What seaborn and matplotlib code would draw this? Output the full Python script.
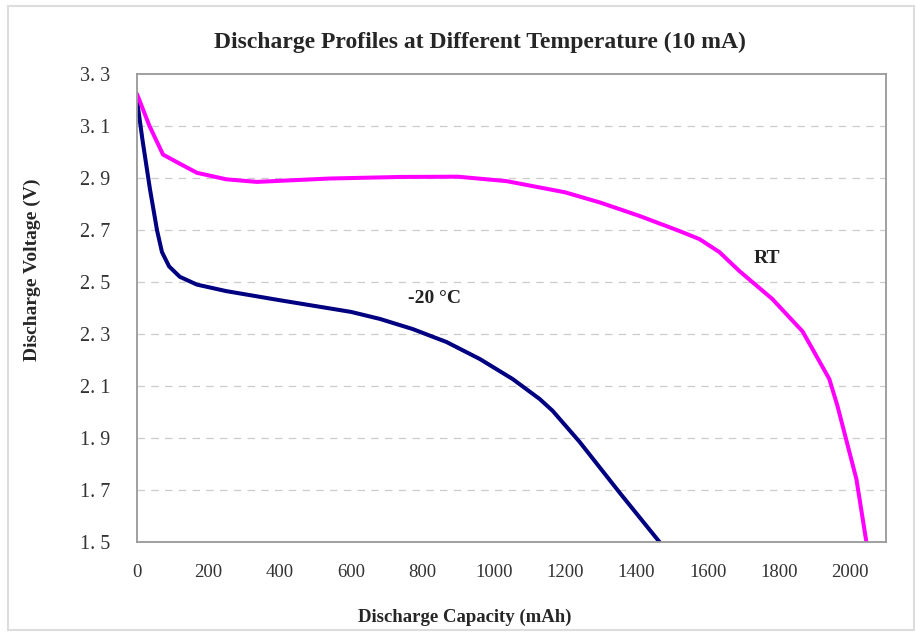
import matplotlib
matplotlib.use("Agg")
import matplotlib.pyplot as plt
import seaborn as sns
import pandas as pd

# -20 °C series
cold_capacity = [0, 15, 36, 56, 70, 90, 120, 168, 250, 400, 600, 681, 773, 868, 961, 1053, 1129, 1165, 1241, 1353, 1465]
cold_voltage = [3.20, 3.05, 2.86, 2.70, 2.615, 2.56, 2.52, 2.49, 2.465, 2.43, 2.385, 2.358, 2.319, 2.269, 2.204, 2.127, 2.05, 2.005, 1.885, 1.69, 1.50]
# Room temperature series
rt_capacity = [0, 35, 73, 120, 168, 250, 336, 540, 737, 900, 1036, 1200, 1300, 1409, 1521, 1577, 1633, 1689, 1781, 1866, 1894, 1941, 1964, 2017, 2045]
rt_voltage = [3.223, 3.10, 2.99, 2.955, 2.92, 2.895, 2.885, 2.898, 2.904, 2.905, 2.888, 2.845, 2.805, 2.754, 2.696, 2.665, 2.615, 2.542, 2.435, 2.31, 2.242, 2.127, 2.023, 1.742, 1.50]

x_ticks = [0, 200, 400, 600, 800, 1000, 1200, 1400, 1600, 1800, 2000]
y_ticks = [1.5, 1.7, 1.9, 2.1, 2.3, 2.5, 2.7, 2.9, 3.1, 3.3]
y_tick_labels = ["1. 5", "1. 7", "1. 9", "2. 1", "2. 3", "2. 5", "2. 7", "2. 9", "3. 1", "3. 3"]

df = pd.concat([
    pd.DataFrame({"cap": cold_capacity, "v": cold_voltage, "series": "-20 °C"}),
    pd.DataFrame({"cap": rt_capacity, "v": rt_voltage, "series": "RT"}),
], ignore_index=True)

sns.set_style("white")
plt.rcParams["font.family"] = ["Liberation Serif", "DejaVu Serif"]

fig = plt.figure(figsize=(9.16, 6.33), dpi=100)
ax = fig.add_axes([137/916, 1 - 542/633, (886-137)/916, (542-74)/633])

sns.lineplot(data=df, x="cap", y="v", hue="series", sort=False, estimator=None,
             palette={"-20 °C": "#000080", "RT": "#FF00FF"}, linewidth=2.9,
             legend=False, ax=ax)

ax.set_xlim(0, 2100)
ax.set_ylim(1.5, 3.3)
ax.set_xticks(x_ticks)
ax.set_xticklabels([str(t) for t in x_ticks], fontsize=13.5, color="#333333")
ax.set_yticks(y_ticks)
ax.set_yticklabels(y_tick_labels, fontsize=14.5, color="#333333")
ax.tick_params(axis="x", direction="in", length=4, pad=16, color="#999999")
ax.tick_params(axis="y", direction="in", length=4, pad=19, color="#999999")

for yv in y_ticks[1:-1]:
    ax.axhline(yv, color="#cccccc", linestyle=(0, (6, 5)), linewidth=0.9, zorder=0)

for s in ax.spines.values():
    s.set_color("#999999")
    s.set_linewidth(1.3)

ax.set_xlabel("Discharge Capacity (mAh)", fontsize=13.5, fontweight="bold", va="center")
ax.xaxis.set_label_coords((465-137)/749, (542-617)/468)
ax.set_ylabel("Discharge Voltage (V)", fontsize=14, fontweight="bold", va="center")
ax.yaxis.set_label_coords((32-137)/749, (542-270)/468)
fig.text(480/916, 1 - 42/633, "Discharge Profiles at Different Temperature (10 mA)",
         fontsize=17, fontweight="bold", ha="center", va="center")

ax.text(834, 2.435, "-20 °C", fontsize=14, fontweight="bold", color="#222222", ha="center", va="center")
ax.text(1765, 2.59, "RT", fontsize=14, fontweight="bold", color="#222222", ha="center", va="center")

# outer frame like the reference
fig.patches.append(plt.Rectangle((8/916, 0.005), 1 - 8/916 - 0.002, 1 - 0.005 - 6/633,
                                 transform=fig.transFigure, fill=False,
                                 edgecolor="#dddddd", linewidth=1.5))

fig.savefig("out.png", dpi=100)
